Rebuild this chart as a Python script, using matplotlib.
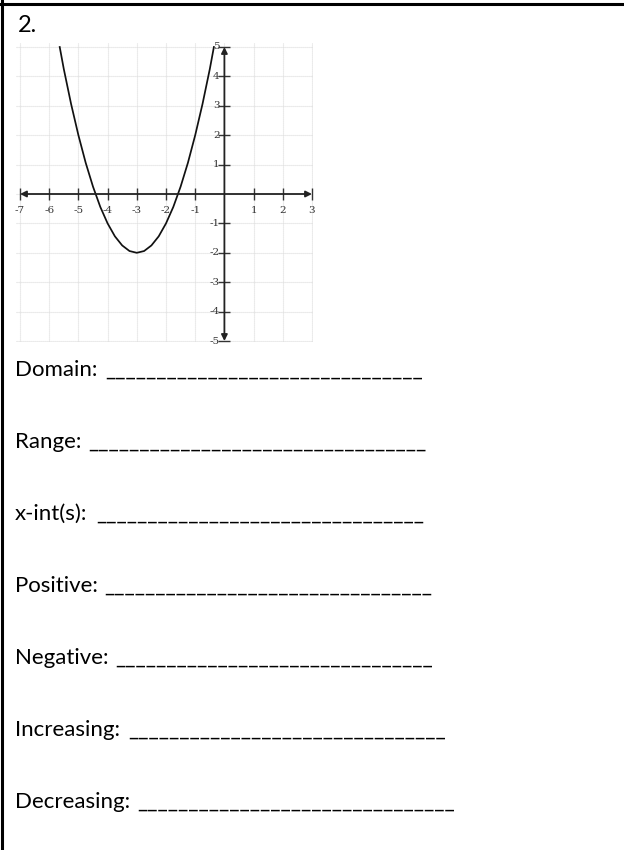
import numpy as np
import matplotlib
matplotlib.use('Agg')
import matplotlib.pyplot as plt
from matplotlib.lines import Line2D

# parabola (vertex at -3, -2)
curve_x = [-5.64, -5.5, -5.25, -5.0, -4.75, -4.5, -4.25, -4.0, -3.75, -3.5, -3.25, -3.0,
           -2.75, -2.5, -2.25, -2.0, -1.75, -1.5, -1.25, -1.0, -0.75, -0.5, -0.36]
curve_y = [5.0, 4.25, 3.06, 2.0, 1.06, 0.25, -0.44, -1.0, -1.44, -1.75, -1.94, -2.0,
           -1.94, -1.75, -1.44, -1.0, -0.44, 0.25, 1.06, 2.0, 3.06, 4.25, 5.0]

x_ticks = [-7, -6, -5, -4, -3, -2, -1, 1, 2, 3]
y_ticks = [-5, -4, -3, -2, -1, 1, 2, 3, 4, 5]

labels = ['Domain:', 'Range:', 'x-int(s):', 'Positive:', 'Negative:', 'Increasing:', 'Decreasing:']
blank_counts = [31, 33, 32, 32, 31, 31, 31]
blank_start = [105, 88, 96, 104, 115, 128, 137]

W, H = 624, 850
fig = plt.figure(figsize=(W / 100, H / 100), dpi=100)

# frame of the worksheet cell
fig.add_artist(Line2D([0, 1], [1 - 3.5 / H, 1 - 3.5 / H], color='black', lw=2.2))
fig.add_artist(Line2D([1.5 / W, 1.5 / W], [0, 1], color='black', lw=2.2))

fig.text(18 / W, 1 - 32 / H, '2.', fontsize=17, family='Lato', va='baseline')

# graph box in pixels: x -7..3 -> 20..312, y 5..-5 -> 47..341
ax = fig.add_axes([16 / W, 1 - 342 / H, (313 - 16) / W, (342 - 43) / H])
ax.set_xlim(-7.137, 3.034)
ax.set_ylim(-5.034, 5.136)
for s in ax.spines.values():
    s.set_visible(False)
ax.set_xticks(range(-7, 4))
ax.set_yticks(range(-5, 6))
ax.tick_params(length=0, labelbottom=False, labelleft=False)
ax.grid(True, color='#dddddd', lw=0.8, ls=(0, (1, 0.8)))

# axes with arrows
ax.annotate('', xy=(3, 0), xytext=(-7, 0),
            arrowprops=dict(arrowstyle='<|-|>', color='#222222', lw=1.3, mutation_scale=9,
                            shrinkA=0, shrinkB=0))
ax.annotate('', xy=(0, 5), xytext=(0, -5),
            arrowprops=dict(arrowstyle='<|-|>', color='#222222', lw=1.3, mutation_scale=9,
                            shrinkA=0, shrinkB=0))
ax.plot(x_ticks, [0] * len(x_ticks), ls='none', marker='|', ms=8, mew=1, color='#333333')
ax.plot([0] * len(y_ticks), y_ticks, ls='none', marker='_', ms=8, mew=1, color='#333333')

for t in x_ticks:
    ax.text(t, -0.55, str(t), ha='center', va='center', fontsize=7.5,
            family='DejaVu Serif', color='#333333')
for t in y_ticks:
    ax.text(-0.17, t, str(t), ha='right', va='center', fontsize=7.5,
            family='DejaVu Serif', color='#333333')

ax.plot(curve_x, curve_y, color='#111111', lw=1.25)

# fill-in lines
for i, lab in enumerate(labels):
    base = 376 + 72 * i
    fig.text(15 / W, 1 - base / H, lab, fontsize=16, family='Lato', va='baseline')
    fig.text(blank_start[i] / W, 1 - base / H, '_' * blank_counts[i], fontsize=16,
             family='Lato', va='baseline')

fig.savefig('out.png', dpi=100)
